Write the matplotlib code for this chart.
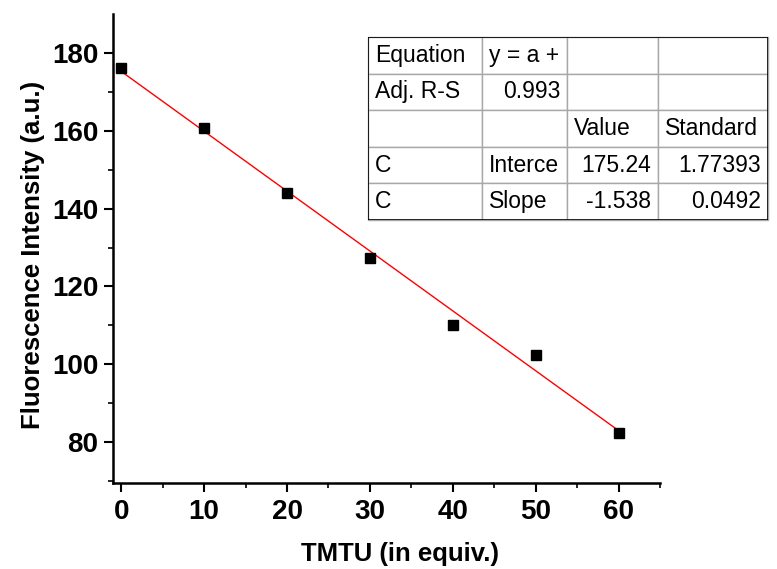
import matplotlib
matplotlib.use("Agg")
import matplotlib.pyplot as plt
import matplotlib.ticker as mticker
import numpy as np

#-- data
tmtu = [0, 10, 20, 30, 40, 50, 60]
intensity = [176.1, 160.7, 144.0, 127.4, 110.1, 102.4, 82.3]
intercept = 175.24
slope = -1.538

table_rows = [
    ["Equation", "y = a +", "", ""],
    ["Adj. R-S", "0.993", "", ""],
    ["", "", "Value", "Standard"],
    ["C", "Interce", "175.24", "1.77393"],
    ["C", "Slope", "-1.538", "0.0492"],
]
right_cells = {(1, 1), (3, 2), (3, 3), (4, 2), (4, 3)}

plt.rcParams['font.family'] = ['Liberation Sans', 'DejaVu Sans']

fig = plt.figure(figsize=(7.77, 5.69), dpi=100)
ax = fig.add_axes([113/777, 1-483/569, (660-113)/777, (483-14)/569])

xfit = np.array([tmtu[0], tmtu[-1]])
ax.plot(xfit, intercept + slope*xfit, color='red', lw=1, zorder=2)
ax.plot(tmtu, intensity, 's', color='black', ms=7, zorder=3)

ax.set_xlim(-1, 65)
ax.set_ylim(69.5, 190)
ax.xaxis.set_major_locator(mticker.MultipleLocator(10))
ax.xaxis.set_minor_locator(mticker.MultipleLocator(5))
ax.yaxis.set_major_locator(mticker.FixedLocator([80, 100, 120, 140, 160, 180]))
ax.yaxis.set_minor_locator(mticker.FixedLocator([70, 90, 110, 130, 150, 170]))
ax.tick_params(which='major', direction='out', length=6.5, width=1.5, labelsize=20)
ax.tick_params(axis='x', which='major', pad=5)
ax.tick_params(axis='y', which='major', pad=4)
ax.tick_params(which='minor', direction='out', length=3.5, width=1.2)
for lab in ax.get_xticklabels() + ax.get_yticklabels():
    lab.set_fontweight('bold')

for s in ['top', 'right']:
    ax.spines[s].set_visible(False)
for s in ['left', 'bottom']:
    ax.spines[s].set_linewidth(1.8)

ax.set_xlabel("TMTU (in equiv.)", fontsize=18.5, fontweight='bold')
ax.set_ylabel("Fluorescence Intensity (a.u.)", fontsize=18.5, fontweight='bold')
ax.xaxis.set_label_coords(0.525, -0.125)
ax.yaxis.set_label_coords(-0.124, 0.487)

#-- fit result table
tx0, tx1 = 368/777, 768/777
ty0, ty1 = 1-220/569, 1-37/569
tab_ax = fig.add_axes([tx0, ty0, tx1-tx0, ty1-ty0])
tab_ax.axis('off')
tbl = tab_ax.table(cellText=table_rows, bbox=[0, 0, 1, 1], cellLoc='left')
tbl.auto_set_font_size(False)
tbl.set_fontsize(16.5)
widths = [114, 85, 91, 110]
for (r, c), cell in tbl.get_celld().items():
    cell.set_width(widths[c]/400)
    cell.set_edgecolor('#a8a8a8')
    cell.set_linewidth(1)
    cell.PAD = 7/widths[c]
    if (r, c) in right_cells:
        cell._loc = 'right'
        cell.get_text().set_ha('right')
tab_ax.add_patch(plt.Rectangle((0, 0), 1, 1, transform=tab_ax.transAxes,
                               fill=False, edgecolor='black', lw=1.2, zorder=5))

fig.savefig("out.png", dpi=100)
